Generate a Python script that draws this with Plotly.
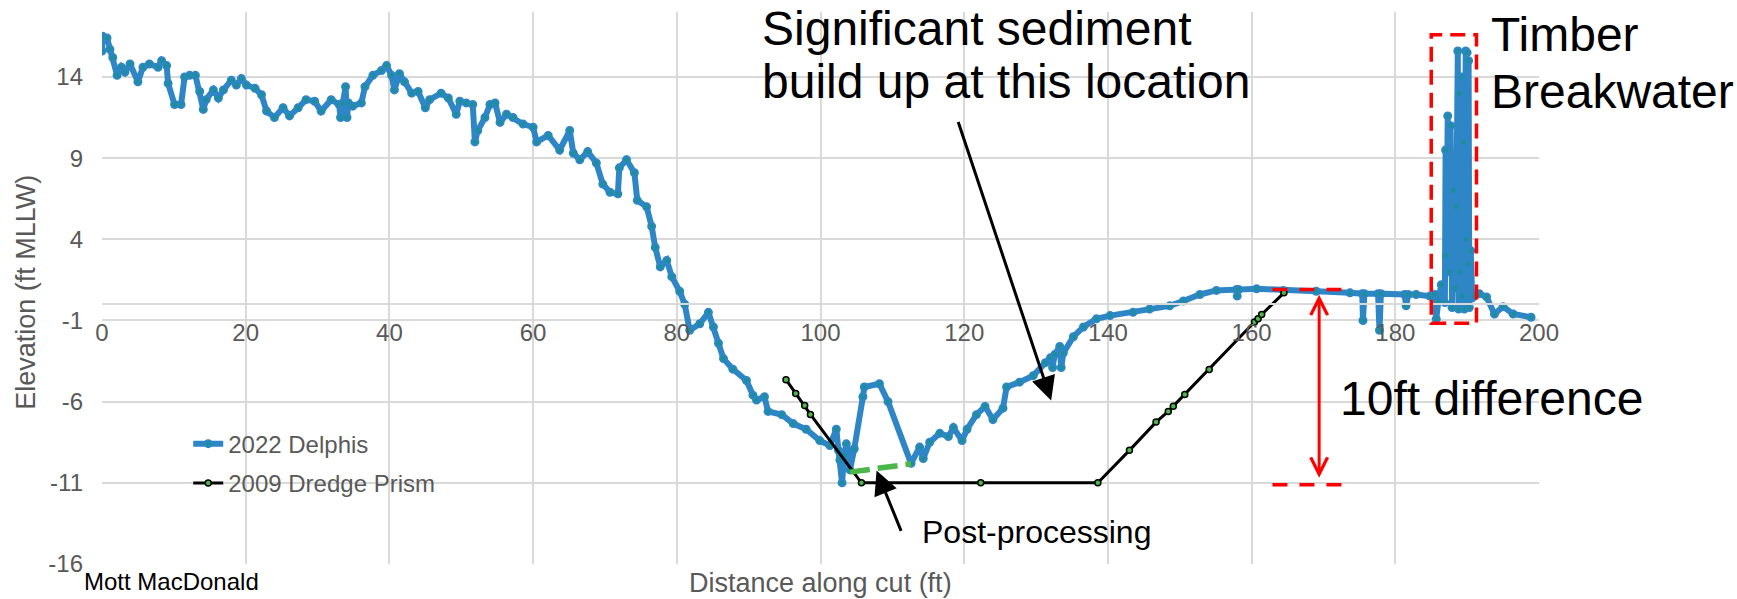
import plotly.graph_objects as go

# ---------------- data ----------------
delphis_x = [0.0, 0.1, 0.7, 1.1, 1.5, 2.1, 2.7, 3.2, 3.9, 5.0, 5.7, 6.6, 7.8, 8.3, 9.0, 9.2, 10.1, 11.0, 11.5, 12.2,
             13.0, 13.6, 14.1, 14.5, 15.5, 16.2, 16.9, 18.0, 18.7, 19.4, 20.1, 21.3, 22.2, 22.9, 24.0, 25.2, 26.1, 27.3,
             28.4, 29.6, 30.5, 31.9, 33.0, 33.2, 33.5, 33.9, 34.1, 34.3, 34.9, 36.1, 36.6, 37.7, 38.9, 39.6, 40.3, 40.7,
             41.4, 42.1, 43.1, 44.0, 45.0, 45.6, 47.2, 48.2, 49.3, 49.8, 50.7, 51.6, 51.9, 52.3, 53.3, 54.0, 54.7, 55.4,
             56.3, 57.2, 58.6, 60.0, 60.5, 62.1, 63.7, 65.1, 65.6, 66.5, 67.6, 68.8, 69.7, 70.7, 71.8, 72.0, 73.0, 74.1,
             74.5, 75.8, 76.5, 77.0, 77.7, 78.6, 79.3, 80.4, 81.1, 81.8, 83.2, 84.4, 85.1, 85.8, 86.5, 87.8, 89.7, 90.6,
             91.1, 92.2, 92.7, 94.6, 96.2, 98.0, 99.9, 101.3, 102.2, 102.5, 102.7, 103.0, 103.3, 103.6, 104.1, 104.5,
             104.7, 105.9, 106.1, 108.2, 109.4, 112.6, 113.8, 114.3, 115.2, 116.6, 117.8, 118.5, 119.7, 120.4, 121.7,
             122.9, 124.0, 125.4, 125.9, 127.7, 129.6, 131.3, 132.0, 132.3, 132.6, 133.3, 133.5, 133.8, 135.2, 136.6,
             138.4, 140.3, 143.5, 145.8, 148.6, 150.5, 152.8, 155.1, 157.9, 158.0, 158.2, 160.7, 164.4, 169.0, 173.7,
             175.4, 175.5, 175.7, 177.6, 177.8, 178.0, 181.3, 181.5, 181.8, 182.9, 184.8, 185.5, 185.7, 186.0, 186.4,
             186.9, 187.0, 187.1, 187.3, 187.5, 187.7, 187.9, 188.1, 188.3, 188.5, 188.7, 188.8, 188.9, 189.0, 189.2,
             189.3, 189.5, 189.6, 189.8, 189.9, 190.0, 190.1, 190.2, 190.3, 190.5, 190.7, 191.0, 191.7, 192.7, 193.8,
             195.0, 196.4, 198.9]
delphis_y = [15.6, 16.5, 16.4, 15.7, 15.2, 14.1, 14.6, 14.3, 14.8, 13.7, 14.6, 14.8, 14.6, 15.0, 14.7, 13.6, 12.3, 12.3,
             14.0, 14.1, 14.1, 13.1, 12.0, 12.6, 13.2, 12.7, 13.2, 13.8, 13.5, 13.9, 13.5, 13.3, 12.9, 11.9, 11.5, 12.1,
             11.6, 12.1, 12.6, 12.5, 11.9, 12.6, 12.3, 11.5, 12.4, 13.4, 11.5, 12.4, 12.2, 12.4, 13.4, 14.1, 14.4, 14.7,
             14.1, 13.2, 14.2, 13.7, 13.0, 13.1, 12.1, 12.6, 13.0, 12.7, 11.7, 12.5, 12.4, 12.3, 10.0, 10.7, 11.5, 12.3,
             12.4, 11.2, 11.7, 11.5, 11.1, 10.9, 10.0, 10.4, 9.5, 10.7, 9.3, 8.9, 9.4, 8.7, 7.4, 6.9, 6.8, 8.4, 8.9, 8.1,
             6.4, 6.0, 4.8, 3.5, 2.3, 2.7, 1.7, 0.8, 0.0, -1.6, -1.2, -0.5, -1.4, -2.4, -3.35, -4.0, -4.7, -5.6, -5.9,
             -5.7, -6.6, -6.8, -7.35, -7.7, -8.4, -8.7, -7.7, -9.0, -9.6, -11.0, -9.3, -8.6, -10.2, -9.0, -8.9, -5.7,
             -5.1, -4.9, -6.0, -9.8, -8.8, -9.5, -8.5, -7.95, -8.15, -7.6, -8.4, -7.7, -6.8, -6.3, -7.1, -6.4, -5.1,
             -4.8, -4.4, -3.6, -3.3, -3.9, -3.1, -2.6, -3.9, -3.0, -2.0, -1.4, -0.9, -0.7, -0.5, -0.3, -0.1, 0.2, 0.6,
             0.85, 0.9, 0.5, 0.9, 0.95, 0.85, 0.8, 0.7, 0.65, -1.0, 0.65, 0.65, -1.6, 0.65, 0.6, -0.1, 0.6, 0.6, 0.5,
             0.6, -0.9, 0.2, 1.2, 0.1, 9.5, 3.0, 11.6, 2.0, 11.0, -0.2, 7.0, 1.0, 6.0, 15.6, -0.3, 13.0, 2.0, 14.0, 0.5,
             10.0, -0.3, 15.6, 4.0, 15.5, 2.5, 15.0, -0.2, 3.3, 0.4, 0.5, 0.65, 0.45, -0.6, -0.15, -0.6, -0.8]

prism_x = [95.2, 96.55, 97.8, 98.6, 105.7, 122.3, 138.6, 143.0, 146.7, 148.4, 149.1, 150.7, 154.1, 160.4, 160.9,
           161.4, 164.5]
prism_y = [-4.65, -5.5, -6.23, -6.79, -11.0, -11.0, -11.0, -9.0, -7.26, -6.6, -6.28, -5.56, -4.02, -1.1, -0.9,
           -0.63, 0.7]

postproc_x = [104.1, 112.6]
postproc_y = [-10.34, -9.83]

x_ticks = [0, 20, 40, 60, 80, 100, 120, 140, 160, 180, 200]
y_ticks = [-16, -11, -6, -1, 4, 9, 14]
y_tick_text = ["-16", "-11", "-6", "-1", "4", "9", "14"]

FONT = "Liberation Sans, Arial, sans-serif"
GRID = "#d9d9d9"
TXT = "#595959"
BLUE = "#2E86C7"

fig = go.Figure()
fig.add_trace(go.Scatter(
    x=delphis_x, y=delphis_y, mode="lines+markers", name="2022 Delphis",
    line=dict(color=BLUE, width=6),
    marker=dict(size=7, color="#1d8f9c", line=dict(color=BLUE, width=2)),
    legendgroup="a"))
fig.add_trace(go.Scatter(
    x=prism_x, y=prism_y, mode="lines+markers", name="2009 Dredge Prism",
    line=dict(color="black", width=3),
    marker=dict(size=6, color="#4CB648", line=dict(color="black", width=1.5)),
    legendgroup="b"))
fig.add_trace(go.Scatter(
    x=postproc_x, y=postproc_y, mode="lines", showlegend=False,
    line=dict(color="#4CB648", width=5.5, dash="20px,8px")))

shapes = [
    dict(type="rect", xref="x", yref="y", x0=185.0, x1=191.3, y0=-1.17, y1=16.6,
         line=dict(color="#FF0000", width=3.5, dash="15px,8px")),
    dict(type="line", xref="x", yref="y", x0=162.9, x1=172.7, y0=0.91, y1=0.91,
         line=dict(color="#FF0000", width=3.5, dash="15px,12px")),
    dict(type="line", xref="x", yref="y", x0=162.9, x1=172.7, y0=-11.12, y1=-11.12,
         line=dict(color="#FF0000", width=3.5, dash="15px,12px")),
]

big = dict(family=FONT, size=48, color="black")


def label(x, y, text, font):
    return dict(x=x, y=y, xref="x", yref="y", text=text, showarrow=False,
                xanchor="left", yanchor="middle", align="left", font=font)


annotations = [
    label(91.6, 17.0, "Significant sediment", big),
    label(91.6, 13.72, "build up at this location", big),
    label(193.0, 16.6, "Timber", big),
    label(193.0, 13.11, "Breakwater", big),
    label(172.0, -5.82, "10ft difference", big),
    label(113.9, -14.04, "Post-processing", dict(family=FONT, size=32, color="black")),
    # arrows
    dict(x=132.1, y=-5.93, ax=119.1, ay=11.32, xref="x", yref="y", axref="x", ayref="y", text="",
         showarrow=True, arrowhead=2, arrowsize=1.6, arrowwidth=3, arrowcolor="black"),
    dict(x=107.8, y=-10.24, ax=111.3, ay=-14.05, xref="x", yref="y", axref="x", ayref="y", text="",
         showarrow=True, arrowhead=2, arrowsize=1.6, arrowwidth=3, arrowcolor="black"),
    dict(x=169.4, y=-10.69, ax=169.4, ay=0.68, xref="x", yref="y", axref="x", ayref="y", text="",
         showarrow=True, arrowhead=5, startarrowhead=5, arrowside="end+start", arrowsize=1.1,
         startarrowsize=1.1, arrowwidth=3, arrowcolor="#FF0000"),
    # axis titles and credit
    dict(x=-0.0529, y=0.493, xref="paper", yref="paper", text="Elevation (ft MLLW)", textangle=-90,
         showarrow=False, xanchor="center", yanchor="middle", font=dict(family=FONT, size=27, color=TXT)),
    dict(x=0.5, y=-0.035, xref="paper", yref="paper", text="Distance along cut (ft)",
         showarrow=False, xanchor="center", yanchor="middle", font=dict(family=FONT, size=27, color=TXT)),
    dict(x=-0.0139, y=-0.0308, xref="paper", yref="paper", text="Mott MacDonald",
         showarrow=False, xanchor="left", yanchor="middle", font=dict(family=FONT, size=24, color="black")),
]

fig.update_layout(
    width=1737, height=599,
    margin=dict(l=102, r=198, t=12, b=35, pad=0),
    paper_bgcolor="white", plot_bgcolor="white",
    font=dict(family=FONT, size=24, color=TXT),
    xaxis=dict(range=[0, 200], tickvals=x_ticks, showgrid=True, gridcolor=GRID, gridwidth=1.5,
               zeroline=False, showline=True, linecolor=GRID, linewidth=1.5,
               anchor="free", position=16 / 34, ticks="", ticklabelstandoff=7,
               tickfont=dict(family=FONT, size=24, color=TXT)),
    yaxis=dict(range=[-16, 18], tickvals=y_ticks, ticktext=y_tick_text, showgrid=True, gridcolor=GRID,
               gridwidth=1.5, zeroline=False, showline=False, ticks="", ticklabelstandoff=18,
               tickfont=dict(family=FONT, size=24, color=TXT)),
    legend=dict(x=0.06, y=0.258, xanchor="left", yanchor="top", bgcolor="rgba(0,0,0,0)",
                traceorder="grouped", tracegroupgap=5,
                font=dict(family=FONT, size=24, color=TXT)),
    shapes=shapes, annotations=annotations,
)

fig.write_html("out.html", config={"displayModeBar": False},
               post_script="document.body.style.margin='0';document.body.style.overflow='hidden';")
